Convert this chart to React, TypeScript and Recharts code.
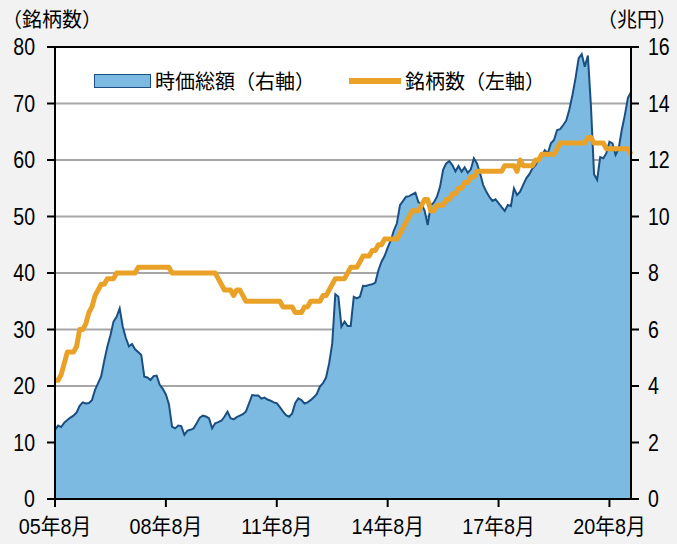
import {
  Area,
  CartesianGrid,
  ComposedChart,
  Line,
  ReferenceLine,
  XAxis,
  YAxis,
} from "recharts";

// monthly, 2005-08 .. 2021-03
const TICK_IDX = [0, 36, 72, 108, 144, 180];
const TICK_LABELS = ["05年8月", "08年8月", "11年8月", "14年8月", "17年8月", "20年8月"];
const LEFT_TICKS = [0, 10, 20, 30, 40, 50, 60, 70, 80];
const RIGHT_TICKS = [0, 2, 4, 6, 8, 10, 12, 14, 16];

// 時価総額 (兆円, right axis)
const CAP = [
  2.45, 2.6, 2.55, 2.7, 2.8, 2.88, 2.95, 3.06, 3.3, 3.42,
  3.38, 3.4, 3.5, 3.86, 4.1, 4.35, 4.9, 5.4, 5.8, 6.28,
  6.45, 6.75, 6.1, 5.7, 5.4, 5.49, 5.3, 5.2, 5.1, 4.33,
  4.3, 4.21, 4.35, 4.37, 4.04, 3.9, 3.7, 3.35, 2.56, 2.5,
  2.6, 2.58, 2.27, 2.42, 2.45, 2.5, 2.68, 2.88, 2.95, 2.92,
  2.86, 2.5, 2.68, 2.72, 2.77, 2.91, 3.09, 2.86, 2.82, 2.9,
  2.95, 3.0, 3.1, 3.39, 3.68, 3.66, 3.66, 3.55, 3.59, 3.52,
  3.48, 3.42, 3.39, 3.25, 3.1, 2.97, 2.91, 3.03, 3.4, 3.56,
  3.5, 3.38, 3.42, 3.5, 3.6, 3.72, 3.98, 4.1, 4.3, 4.8,
  5.5, 7.25, 7.16, 6.1, 6.28, 6.12, 6.12, 7.16, 7.1, 7.16,
  7.55, 7.54, 7.58, 7.6, 7.66, 8.1, 8.4, 8.6, 8.9, 9.15,
  9.5, 9.76, 10.4, 10.55, 10.7, 10.72, 10.78, 10.84, 10.5, 10.45,
  10.2, 9.7, 10.4, 10.5, 10.7, 11.05, 11.65, 11.88, 11.96, 11.82,
  11.6, 11.79, 11.59, 11.74, 11.55, 11.67, 12.06, 11.88, 11.53, 11.12,
  10.88, 10.7, 10.55, 10.61, 10.47, 10.33, 10.2, 10.41, 10.37, 11.0,
  10.76, 10.88, 11.12, 11.35, 11.5, 11.7, 11.82, 12.06, 12.12, 12.35,
  12.24, 12.59, 12.71, 13.06, 13.09, 13.24, 13.4, 13.8, 14.3, 14.9,
  15.6, 15.75, 15.3, 15.7, 13.9, 11.5, 11.3, 12.1, 12.06, 12.24,
  12.65, 12.59, 12.18, 12.41, 13.06, 13.59, 14.2, 14.4,
];

// 銘柄数 (left axis)
const COUNT = [
  21, 21, 22, 24, 26, 26, 26, 27, 30, 30,
  31, 33, 34, 36, 37, 38, 38, 39, 39, 39,
  40, 40, 40, 40, 40, 40, 40, 41, 41, 41,
  41, 41, 41, 41, 41, 41, 41, 41, 40, 40,
  40, 40, 40, 40, 40, 40, 40, 40, 40, 40,
  40, 40, 40, 39, 38, 37, 37, 37, 36, 37,
  37, 36, 35, 35, 35, 35, 35, 35, 35, 35,
  35, 35, 35, 35, 34, 34, 34, 34, 33, 33,
  33, 34, 34, 35, 35, 35, 35, 36, 36, 37,
  38, 39, 39, 39, 39, 40, 41, 41, 41, 42,
  43, 43, 43, 44, 44, 45, 45, 46, 46, 46,
  46, 46, 47, 48, 49, 50, 51, 51, 51, 52,
  53, 53, 51, 51, 52, 52, 52, 53, 53, 54,
  54, 55, 55, 56, 56, 57, 57, 58, 58, 58,
  58, 58, 58, 58, 58, 58, 59, 59, 59, 59,
  58, 60, 59, 59, 59, 59, 60, 60, 61, 61,
  61, 61, 61, 62, 63, 63, 63, 63, 63, 63,
  63, 63, 63, 64, 64, 63, 63, 63, 63, 62,
  62, 62, 62, 62, 62, 62, 62, 61,
];

const data = CAP.map((cap, i) => ({ i, cap, count: COUNT[i] }));

const FONT = "'Liberation Sans', Arial, 'Noto Sans CJK JP', sans-serif";
const AREA_FILL = "#7dbae1";
const AREA_STROKE = "#1b4f82";
const LINE_COLOR = "#e9a227";

const LeftTick = ({ x, y, payload }: any) => (
  <text transform={`translate(${x},${y}) scale(0.85,1)`} textAnchor="end" dy="0.36em" fontSize={23} fill="#000" fontFamily={FONT}>
    {payload.value}
  </text>
);

const RightTick = ({ x, y, payload }: any) => (
  <text transform={`translate(${x},${y}) scale(0.85,1)`} textAnchor="start" dy="0.36em" fontSize={23} fill="#000" fontFamily={FONT}>
    {payload.value}
  </text>
);

const BottomTick = ({ x, y, payload }: any) => (
  <text transform={`translate(${x},${y}) scale(0.9,1)`} textAnchor="middle" dy="0.78em" fontSize={22} fill="#000" fontFamily={FONT}>
    {TICK_LABELS[TICK_IDX.indexOf(payload.value)]}
  </text>
);

export default function App() {
  return (
    <div style={{ position: "absolute", left: 0, top: 0, width: 677, height: 544, background: "#f2f2f2", overflow: "hidden" }}>
      <div style={{ position: "absolute", left: 2, top: 4, fontFamily: FONT, fontSize: 20 }}>（銘柄数）</div>
      <div style={{ position: "absolute", right: 0, top: 4, fontFamily: FONT, fontSize: 20 }}>（兆円）</div>
      <ComposedChart width={677} height={544} data={data} margin={{ top: 47, right: 0, left: 0, bottom: 0 }}>
        <CartesianGrid yAxisId="left" vertical={false} stroke="#a6a6a6" strokeWidth={2} fill="#ffffff" />
        <XAxis
          dataKey="i"
          type="number"
          domain={[0, 187]}
          ticks={TICK_IDX}
          interval={0}
          height={45}
          tickSize={8}
          tickMargin={10}
          tick={<BottomTick />}
          axisLine={{ stroke: "#000", strokeWidth: 2 }}
          tickLine={{ stroke: "#000", strokeWidth: 2 }}
        />
        <YAxis
          yAxisId="left"
          domain={[0, 80]}
          ticks={LEFT_TICKS}
          interval={0}
          width={55}
          tickSize={8}
          tickMargin={12}
          tick={<LeftTick />}
          axisLine={{ stroke: "#000", strokeWidth: 2 }}
          tickLine={{ stroke: "#000", strokeWidth: 2 }}
        />
        <YAxis
          yAxisId="right"
          orientation="right"
          domain={[0, 16]}
          ticks={RIGHT_TICKS}
          interval={0}
          width={46}
          tickSize={8}
          tickMargin={9}
          tick={<RightTick />}
          axisLine={{ stroke: "#000", strokeWidth: 2 }}
          tickLine={{ stroke: "#000", strokeWidth: 2 }}
        />
        <Area
          yAxisId="right"
          dataKey="cap"
          type="linear"
          fill={AREA_FILL}
          fillOpacity={1}
          stroke={AREA_STROKE}
          strokeWidth={2}
          isAnimationActive={false}
        />
        <Line
          yAxisId="left"
          dataKey="count"
          type="linear"
          stroke={LINE_COLOR}
          strokeWidth={5}
          dot={false}
          strokeLinejoin="round"
          isAnimationActive={false}
        />
        <ReferenceLine yAxisId="left" y={80} stroke="#000" strokeWidth={2} />
      </ComposedChart>
      <div
        style={{
          position: "absolute",
          left: 94,
          top: 66,
          display: "flex",
          alignItems: "center",
          fontFamily: FONT,
          fontSize: 20,
          color: "#000",
          whiteSpace: "nowrap",
        }}
      >
        <span style={{ display: "inline-block", width: 55, height: 12, background: AREA_FILL, border: `1.5px solid ${AREA_STROKE}`, marginRight: 4 }} />
        <span style={{ marginRight: 34 }}>時価総額（右軸）</span>
        <span style={{ display: "inline-block", width: 52, height: 6, background: LINE_COLOR, marginRight: 4 }} />
        <span>銘柄数（左軸）</span>
      </div>
    </div>
  );
}
